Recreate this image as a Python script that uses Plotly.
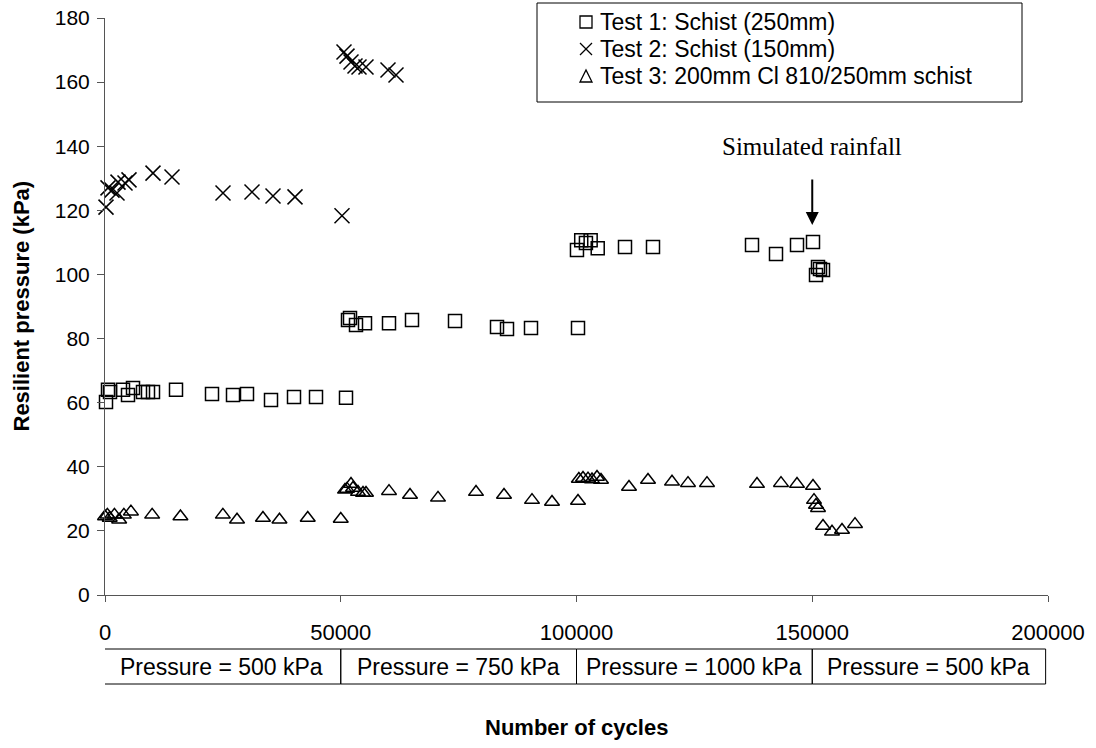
import plotly.graph_objects as go

# ---------------- data ----------------
t1_x = [212, 636, 1060, 3818, 4878, 5938, 8059, 9119, 10180, 15058, 22694, 27147, 30117,
        35206, 40085, 44750, 51113,
        51537, 51961, 53234, 55143, 60233, 65111, 74231, 83139, 85260, 90350, 100318,
        100100, 101000, 102000, 103000, 104500, 110286, 116225, 137222, 142312, 146765,
        150159, 150796, 151220, 151644, 152280]
t1_y = [60.2, 64.0, 63.3, 64.0, 62.4, 64.6, 63.3, 63.3, 63.3, 64.0, 62.7, 62.4, 62.7,
        60.8, 61.8, 61.8, 61.5,
        85.8, 86.4, 84.2, 84.8, 84.8, 85.8, 85.5, 83.6, 83.0, 83.3, 83.3,
        107.6, 110.7, 109.8, 110.7, 108.2, 108.6, 108.6, 109.2, 106.4, 109.2,
        110.1, 99.8, 102.3, 101.7, 101.4]

t2_x = [212, 636, 1485, 2545, 2757, 4242, 5090, 10180, 14210, 25026, 31177, 35630, 40297,
        50265, 50689, 51325, 52173, 53022, 53870, 55354, 60021, 61718]
t2_y = [121.0, 127.0, 126.3, 125.4, 128.8, 128.5, 129.5, 131.6, 130.4, 125.4, 125.7, 124.5,
        124.2, 118.3, 169.4, 168.1, 166.3, 165.0, 164.7, 164.7, 163.8, 162.2]

t3_x = [0, 500, 1000, 2000, 3000, 4000, 5500, 10000, 16000, 25000, 28000, 33500, 37000,
        43000, 50000,
        50901, 51325, 52173, 52598, 53658, 54719, 55355, 60233, 64687, 70626, 78685,
        84623, 90562, 94804, 100318,
        101378, 102439, 103287, 104347, 105196, 100500,
        111134, 115164, 120254, 123648, 127678, 138282, 143372, 146765, 150159, 150371,
        150795, 151220, 152280, 154189, 156310, 159067]
t3_y = [24.5, 25.0, 24.0, 25.0, 23.5, 25.0, 26.0, 25.0, 24.5, 25.0, 23.5, 24.0, 23.5,
        24.0, 23.7,
        32.8, 33.1, 34.6, 33.4, 32.1, 31.8, 31.8, 32.4, 31.2, 30.3, 32.1,
        31.2, 29.6, 29.0, 29.3,
        36.5, 36.3, 36.0, 36.8, 35.9, 36.2,
        33.7, 35.9, 35.3, 34.9, 34.9, 34.6, 34.9, 34.6, 34.0, 29.6,
        28.1, 27.1, 21.5, 19.7, 20.3, 22.1]

series_names = ["Test 1: Schist (250mm)", "Test 2: Schist (150mm)",
                "Test 3: 200mm Cl 810/250mm schist"]

x_ticks = [0, 50000, 100000, 150000, 200000]
y_ticks = [0, 20, 40, 60, 80, 100, 120, 140, 160, 180]

stage_edges = [-500, 50000, 100000, 150000, 199500]
stage_labels = ["Pressure = 500 kPa", "Pressure = 750 kPa",
                "Pressure = 1000 kPa", "Pressure = 500 kPa"]

rain_x = 150000
rain_head = 115.4
rain_tail = 130.1
rain_text_y = 139.8

# ---------------- layout helpers ----------------
W, H = 1096, 748
L, T, R, B = 105, 18, 48, 153
PW, PH = W - L - R, H - T - B


def px(xp):  # screen x pixel -> paper
    return (xp - L) / PW


def py(yp):  # screen y pixel -> paper
    return (H - B - yp) / PH


FONT = "Liberation Sans, Arial, sans-serif"
fig = go.Figure()

symbols = ["square-open", "x-thin-open", "triangle-up-open"]
sizes = [13, 15, 13]
for xs, ys, nm, sym, sz in zip([t1_x, t2_x, t3_x], [t1_y, t2_y, t3_y], series_names,
                               symbols, sizes):
    fig.add_trace(go.Scatter(x=xs, y=ys, mode="markers", name=nm, cliponaxis=False,
                             showlegend=False,
                             marker=dict(symbol=sym, size=sz, color="black",
                                         line=dict(width=1.5, color="black"))))

shapes = []
annotations = []

# pressure boxes below the axis
box_top, box_bot = py(649), py(684)
for i, lab in enumerate(stage_labels):
    x0, x1 = stage_edges[i], stage_edges[i + 1]
    shapes.append(dict(type="rect", xref="x", yref="paper", x0=x0, x1=x1,
                       y0=box_bot, y1=box_top, line=dict(color="black", width=1)))
    annotations.append(dict(x=(x0 + x1) / 2, y=(box_top + box_bot) / 2,
                            xref="x", yref="paper", xanchor="center", yanchor="middle",
                            text=lab, showarrow=False,
                            font=dict(family=FONT, size=23, color="black")))

# legend box with keys drawn as glyph-like shapes
shapes.append(dict(type="rect", xref="paper", yref="paper",
                   x0=px(537), x1=px(1022), y0=py(102), y1=py(3),
                   line=dict(color="black", width=1)))
row_y = [22, 49, 76]
kx = 586
kh = 6
shapes.append(dict(type="rect", xref="paper", yref="paper",
                   x0=px(kx - kh), x1=px(kx + kh), y0=py(row_y[0] + kh), y1=py(row_y[0] - kh),
                   line=dict(color="black", width=1.3)))
shapes.append(dict(type="line", xref="paper", yref="paper",
                   x0=px(kx - kh), x1=px(kx + kh), y0=py(row_y[1] + kh), y1=py(row_y[1] - kh),
                   line=dict(color="black", width=1.3)))
shapes.append(dict(type="line", xref="paper", yref="paper",
                   x0=px(kx - kh), x1=px(kx + kh), y0=py(row_y[1] - kh), y1=py(row_y[1] + kh),
                   line=dict(color="black", width=1.3)))
shapes.append(dict(type="path", xref="paper", yref="paper",
                   path="M {a},{b} L {c},{d} L {e},{f} Z".format(
                       a=px(kx - kh), b=py(row_y[2] + kh),
                       c=px(kx + kh), d=py(row_y[2] + kh),
                       e=px(kx), f=py(row_y[2] - kh)),
                   line=dict(color="black", width=1.3)))
for yy, nm in zip(row_y, series_names):
    annotations.append(dict(x=px(598), y=py(yy), xref="paper", yref="paper",
                            xanchor="left", yanchor="middle", text=nm, showarrow=False,
                            font=dict(family=FONT, size=23, color="black")))

# rainfall arrow + label
annotations.append(dict(x=rain_x, y=rain_head, ax=rain_x, ay=rain_tail,
                        xref="x", yref="y", axref="x", ayref="y",
                        showarrow=True, arrowhead=2, arrowsize=1.3, arrowwidth=2,
                        arrowcolor="black", text=""))
annotations.append(dict(x=rain_x, y=rain_text_y, xref="x", yref="y", showarrow=False,
                        xanchor="center", yanchor="middle",
                        text="Simulated rainfall",
                        font=dict(family="Liberation Serif, Times New Roman, serif",
                                  size=25, color="black")))

# axis titles
annotations.append(dict(x=px(21), y=0.5, xref="paper", yref="paper",
                        xanchor="center", yanchor="middle",
                        text="<b>Resilient pressure (kPa)</b>", textangle=-90,
                        showarrow=False, font=dict(family=FONT, size=22, color="black")))
annotations.append(dict(x=0.5, y=py(727), xref="paper", yref="paper",
                        xanchor="center", yanchor="middle",
                        text="<b>Number of cycles</b>", showarrow=False,
                        font=dict(family=FONT, size=22, color="black")))

fig.update_layout(
    width=W, height=H,
    margin=dict(l=L, r=R, t=T, b=B, autoexpand=False),
    paper_bgcolor="white", plot_bgcolor="white",
    font=dict(family=FONT, size=22, color="black"),
    showlegend=False,
    shapes=shapes, annotations=annotations,
)
fig.update_xaxes(range=[0, 200000], tickvals=x_ticks, ticktext=[str(v) for v in x_ticks],
                 showgrid=False, zeroline=False, showline=True, linecolor="#555",
                 linewidth=1, ticks="outside", ticklen=6, tickcolor="#555",
                 ticklabelstandoff=12, automargin=False, ticklabeloverflow="allow",
                 tickfont=dict(family=FONT, size=22, color="black"))
fig.update_yaxes(range=[0, 180], tickvals=y_ticks, showgrid=False, zeroline=False,
                 showline=True, linecolor="#555", linewidth=1, ticks="outside",
                 ticklen=7, tickcolor="#555", ticklabelstandoff=3, automargin=False,
                 ticklabeloverflow="allow",
                 tickfont=dict(family=FONT, size=21, color="black"))

fig.write_html("out.html",
               config={"displayModeBar": False, "staticPlot": True},
               post_script="document.body.style.margin='0px';"
                           "document.body.style.overflow='hidden';")
